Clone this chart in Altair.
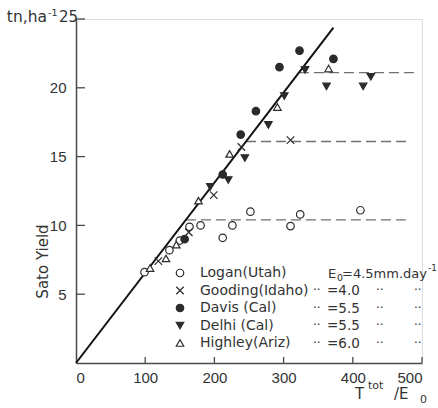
import altair as alt
import pandas as pd

# Sato yield (tn/ha) against T_tot / E0 for five sites
sites = ["Logan(Utah)", "Gooding(Idaho)", "Davis (Cal)", "Delhi (Cal)", "Highley(Ariz)"]
eo_values = ["4.5", "4.0", "5.5", "5.5", "6.0"]

logan_x = [99, 135, 150, 164, 180, 212, 226, 252, 310, 324, 411]
logan_y = [6.6, 8.2, 8.9, 9.9, 10.0, 9.1, 10.0, 11.0, 9.95, 10.8, 11.1]
gooding_x = [119, 163, 199, 239, 310]
gooding_y = [7.4, 9.5, 12.2, 15.7, 16.2]
davis_x = [157, 212, 238, 260, 294, 323, 372]
davis_y = [9.0, 13.7, 16.6, 18.3, 21.5, 22.7, 22.1]
delhi_x = [194, 220, 244, 278, 301, 331, 362, 415, 426]
delhi_y = [12.8, 13.3, 14.9, 17.3, 19.4, 21.3, 20.1, 20.1, 20.8]
highley_x = [107, 130, 145, 177, 222, 291, 365]
highley_y = [6.9, 7.6, 8.6, 11.8, 15.2, 18.6, 21.4]

# Common line through the origin and the plateau levels
slope = 0.0655
line_end_x = 372
plateau_levels = [10.4, 16.1, 21.1]
plateau_end_x = [483, 483, 493]

x_ticks = [0, 100, 200, 300, 400, 500]
y_ticks = [5, 10, 15, 20, 25]

W, H = 346, 344
INK = "#2b2b2b"
TXT = "#333333"
FONT = "DejaVu Sans"
NUM_FONT = "Liberation Sans Narrow, Liberation Sans"

rows = []
for name, xs, ys in [
    (sites[0], logan_x, logan_y),
    (sites[1], gooding_x, gooding_y),
    (sites[2], davis_x, davis_y),
    (sites[3], delhi_x, delhi_y),
    (sites[4], highley_x, highley_y),
]:
    rows += [{"site": name, "x": a, "y": b} for a, b in zip(xs, ys)]
pts = pd.DataFrame(rows)

xscale = alt.Scale(domain=[0, 500], nice=False)
yscale = alt.Scale(domain=[0, 25], nice=False)

xaxis = alt.Axis(values=x_ticks, ticks=False, labelPadding=7, grid=False,
                 domainColor="#4a4a4a", domainWidth=1.5, labelFont=NUM_FONT,
                 labelFontSize=15, labelColor=TXT, title=None)
yaxis = alt.Axis(values=y_ticks, ticks=False, labelPadding=10, grid=False,
                 domainColor="#4a4a4a", domainWidth=1.5, labelFont=NUM_FONT,
                 labelFontSize=15, labelColor=TXT,
                 labelExpr="datum.value == 25 ? '' : datum.label",
                 title="Sato  Yield", titleFont=FONT, titleFontSize=15,
                 titleFontWeight="normal", titleColor=TXT, titleAngle=270,
                 titleX=-29, titleY=242, titleAlign="center",
                 titleBaseline="alphabetic")

# fitted line through the origin
main_df = pd.DataFrame({"x": [0, line_end_x], "y": [0, slope * line_end_x]})
main_line = alt.Chart(main_df).mark_line(color="#111", strokeWidth=2).encode(
    x=alt.X("x:Q", scale=xscale, axis=xaxis),
    y=alt.Y("y:Q", scale=yscale, axis=yaxis),
)

# plateaus (dashed)
plat_rows = []
for i, (lv, xe) in enumerate(zip(plateau_levels, plateau_end_x)):
    plat_rows.append({"g": i, "x": lv / slope, "x2": xe, "y": lv})
plat_df = pd.DataFrame(plat_rows)
plateaus = alt.Chart(plat_df).mark_rule(
    color="#707070", strokeWidth=1.4, strokeDash=[10, 5]
).encode(x="x:Q", x2="x2:Q", y="y:Q")

# inward tick marks
xt = alt.Chart(pd.DataFrame({"v": x_ticks[1:]})).mark_rule(
    color="#4a4a4a", strokeWidth=1.3
).encode(x="v:Q", y=alt.value(H), y2=alt.value(H - 6))
yt = alt.Chart(pd.DataFrame({"v": y_ticks})).mark_rule(
    color="#4a4a4a", strokeWidth=1.3
).encode(y="v:Q", x=alt.value(0), x2=alt.value(9))

cross = "M-1,-1L1,1M-1,1L1,-1"
points = alt.Chart(pts).mark_point(size=56, strokeWidth=1.2, opacity=1).encode(
    x="x:Q",
    y="y:Q",
    shape=alt.Shape("site:N", scale=alt.Scale(
        domain=sites,
        range=["circle", cross, "circle", "triangle-down", "triangle-up"]),
        legend=alt.Legend(
            orient="none", legendX=97, legendY=247, title=None,
            labelFont=FONT, labelFontSize=14, labelColor=TXT,
            labelOffset=13, rowPadding=3.5, symbolSize=56,
            symbolStrokeWidth=1.2, symbolStrokeColor=INK)),
    fill=alt.Fill("site:N", scale=alt.Scale(
        domain=sites, range=["white", "white", INK, INK, "white"]), legend=None),
    stroke=alt.Stroke("site:N", scale=alt.Scale(
        domain=sites, range=[INK] * 5), legend=None),
)

# E0 column of the key
key_top = 254.5
key_step = 17.5


def txt(s, x, y, size=13.5, align="left", baseline="middle"):
    return alt.Chart(pd.DataFrame({"t": [s]})).mark_text(
        align=align, baseline=baseline, font=FONT, fontSize=size, color=TXT
    ).encode(x=alt.value(x), y=alt.value(y), text="t:N")


key = [
    txt("E", 252, key_top, size=13),
    txt("0", 261, key_top + 4, size=9.5),
    txt("=" + eo_values[0] + "mm.day", 266, key_top, size=13),
    txt("-1", 352, key_top - 6, size=9),
]
for i in range(1, 5):
    yy = key_top + i * key_step
    key += [
        txt("\u00b7\u00b7", 237, yy - 1, size=12),
        txt("=" + eo_values[i], 251, yy),
        txt("\u00b7\u00b7", 300, yy - 1, size=12),
        txt("\u00b7\u00b7", 338, yy - 1, size=12),
    ]

# unit label at the top of the y axis, and x axis title
top_lab = [
    txt("tn,ha", -29, 3, size=15.5, align="right", baseline="alphabetic"),
    txt("-1", -28, -6, size=9.5),
    txt("25", 2, 3, size=15, align="right", baseline="alphabetic"),
]
x_title = [
    txt("T", 279, H + 36, size=15, baseline="alphabetic"),
    txt("tot", 292, H + 26, size=11, baseline="alphabetic"),
    txt("/E", 318, H + 36, size=15, baseline="alphabetic"),
    txt("0", 344, H + 40, size=11, baseline="alphabetic"),
]

chart = alt.layer(
    plateaus, main_line, xt, yt, points, *key, *top_lab, *x_title
).properties(
    width=W, height=H,
    autosize=alt.AutoSizeParams(type="none"),
    padding={"left": 76, "top": 19, "right": 16, "bottom": 45},
).configure_view(stroke=None).configure(background="white")

chart.save("out.html", embed_options={"renderer": "svg", "actions": False})
